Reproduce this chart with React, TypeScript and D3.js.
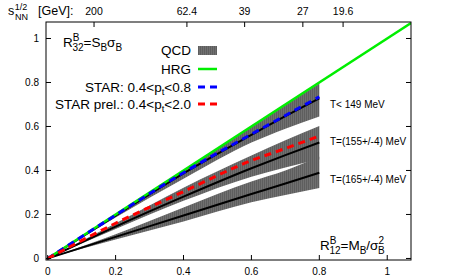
import React from 'react'
import * as d3 from 'd3'

const xGrid = [0, 0.2, 0.4, 0.6, 0.7, 0.8]

// QCD bands: center / upper / lower
const band149 = [0, 0.195, 0.387, 0.562, 0.647, 0.728]
const band149Hi = [0, 0.2, 0.4, 0.597, 0.697, 0.795]
const band149Lo = [0, 0.186, 0.362, 0.527, 0.59, 0.645]
const band155 = [0, 0.145, 0.281, 0.41, 0.47, 0.527]
const band155Hi = [0, 0.16, 0.322, 0.468, 0.537, 0.602]
const band155Lo = [0, 0.134, 0.262, 0.372, 0.414, 0.45]
const band165 = [0, 0.098, 0.195, 0.293, 0.341, 0.39]
const band165Hi = [0, 0.11, 0.232, 0.35, 0.4, 0.462]
const band165Lo = [0, 0.086, 0.168, 0.255, 0.288, 0.32]

// STAR data curves
const star = [0, 0.197, 0.39, 0.565, 0.65, 0.735]
const starPrel = [0, 0.16, 0.304, 0.445, 0.5, 0.557]

// HRG: R32 = R12
const hrgX = [0, 1.07]

const bandLabels = ['T< 149 MeV', 'T=(155+/-4) MeV', 'T=(165+/-4) MeV']
const bandLabelY = [0.7, 0.53, 0.36]

const xTicks = [0, 0.2, 0.4, 0.6, 0.8, 1]
const yTicks = [0, 0.2, 0.4, 0.6, 0.8, 1]
const sqrtsLabels = ['200', '62.4', '39', '27', '19.6']
const sqrtsPos = [0.1365, 0.41, 0.58, 0.7515, 0.87]

const W = 463
const H = 278
const font = '"Liberation Sans", Arial, sans-serif'

export default function App() {
  const x = d3.scaleLinear().domain([-0.005, 1.07]).range([46, 411])
  const y = d3.scaleLinear().domain([-0.007, 1.075]).range([260, 22])
  const [x0, x1] = x.range()
  const [y0, y1] = y.range()

  const line = (ys: number[]) =>
    d3
      .line<number>()
      .x((_, i) => x(xGrid[i]))
      .y((d) => y(d))
      .curve(d3.curveMonotoneX)(ys) as string

  const area = (lo: number[], hi: number[]) =>
    d3
      .area<number>()
      .x((_, i) => x(xGrid[i]))
      .y0((d) => y(d))
      .y1((_, i) => y(hi[i]))
      .curve(d3.curveMonotoneX)(lo) as string

  const bands = [
    [band165Lo, band165Hi, band165],
    [band155Lo, band155Hi, band155],
    [band149Lo, band149Hi, band149],
  ]

  const legendX = 191
  const legendRows = [50, 69, 87, 104]

  return (
    <svg
      width={W}
      height={H}
      style={{position: 'absolute', left: 0, top: 0, background: '#fff'}}
      fontFamily={font}
    >
      <defs>
        <pattern id="hatch" width={2} height={4} patternUnits="userSpaceOnUse">
          <rect width={2} height={4} fill="#707070" />
          <rect width={1} height={4} fill="#5e5e5e" />
        </pattern>
        <clipPath id="plot">
          <rect x={x0} y={y1} width={x1 - x0} height={y0 - y1} />
        </clipPath>
      </defs>

      <g clipPath="url(#plot)">
        {bands.map(([lo, hi], i) => (
          <path key={'b' + i} d={area(lo, hi)} fill="url(#hatch)" />
        ))}
        {bands.map(([, , c], i) => (
          <path key={'c' + i} d={line(c)} fill="none" stroke="#000" strokeWidth={2} />
        ))}
        <line
          x1={x(hrgX[0])}
          y1={y(hrgX[0])}
          x2={x(hrgX[1])}
          y2={y(hrgX[1])}
          stroke="#00ee00"
          strokeWidth={2.5}
        />
        <path d={line(star)} fill="none" stroke="#0000ff" strokeWidth={3} strokeDasharray="7,5" />
        <path d={line(starPrel)} fill="none" stroke="#ff0000" strokeWidth={3} strokeDasharray="7,5" />
      </g>

      {/* frame */}
      <rect x={x0} y={y1} width={x1 - x0} height={y0 - y1} fill="none" stroke="#000" strokeWidth={1} />

      {/* bottom axis */}
      {xTicks.map((t) => (
        <g key={'x' + t}>
          <line x1={x(t)} x2={x(t)} y1={y0} y2={y0 - 5} stroke="#000" />
          <text x={x(t)} y={275} fontSize={10} textAnchor="middle" fill="#000">
            {t}
          </text>
        </g>
      ))}

      {/* left / right axis */}
      {yTicks.map((t) => (
        <g key={'y' + t}>
          <line x1={x0} x2={x0 + 5} y1={y(t)} y2={y(t)} stroke="#000" />
          <line x1={x1} x2={x1 - 5} y1={y(t)} y2={y(t)} stroke="#000" />
          <text x={39} y={y(t) + 3.5} fontSize={10} textAnchor="end" fill="#000">
            {t}
          </text>
        </g>
      ))}

      {/* top sqrt(s) axis */}
      {sqrtsPos.map((p, i) => (
        <g key={'s' + i}>
          <line x1={x(p)} x2={x(p)} y1={y1} y2={y1 + 5} stroke="#000" />
          <text x={x(p)} y={15} fontSize={10.5} textAnchor="middle" fill="#000">
            {sqrtsLabels[i]}
          </text>
        </g>
      ))}
      <text x={8} y={15} fontSize={12.5} fill="#000">
        s
        <tspan fontSize={9} dx={0.5} dy={-5}>1/2</tspan>
        <tspan fontSize={9} x={15} dy={10}>NN</tspan>
        <tspan x={38} dy={-5}>[GeV]:</tspan>
      </text>

      {/* corner labels */}
      <text x={63} y={47} fontSize={13.5} fill="#000">
        R
        <tspan fontSize={10} dy={-6}>B</tspan>
        <tspan fontSize={10} dx={-7} dy={10}>32</tspan>
        <tspan dy={-4}>=S</tspan>
        <tspan fontSize={10} dy={4}>B</tspan>
        <tspan dy={-4}>σ</tspan>
        <tspan fontSize={10} dy={4}>B</tspan>
      </text>
      <text x={320} y={250} fontSize={13.5} fill="#000">
        R
        <tspan fontSize={10} dy={-6}>B</tspan>
        <tspan fontSize={10} dx={-7} dy={10}>12</tspan>
        <tspan dy={-4}>=M</tspan>
        <tspan fontSize={10} dy={4}>B</tspan>
        <tspan dy={-4}>/σ</tspan>
        <tspan fontSize={10} dy={-6}>2</tspan>
        <tspan fontSize={10} dx={-6} dy={10}>B</tspan>
      </text>

      {/* band labels */}
      {bandLabels.map((l, i) => (
        <text key={l} x={330} y={y(bandLabelY[i]) + 3.5} fontSize={10} fill="#000">
          {l}
        </text>
      ))}

      {/* legend */}
      <text x={legendX} y={legendRows[0] + 5} fontSize={13.5} textAnchor="end" fill="#000">
        QCD
      </text>
      <rect x={198} y={legendRows[0] - 4} width={19} height={9} fill="url(#hatch)" />
      <text x={legendX} y={legendRows[1] + 5} fontSize={13.5} textAnchor="end" fill="#000">
        HRG
      </text>
      <line x1={198} x2={217} y1={legendRows[1]} y2={legendRows[1]} stroke="#00ee00" strokeWidth={2.5} />
      <text x={legendX} y={legendRows[2] + 5} fontSize={13.5} textAnchor="end" fill="#000">
        STAR: 0.4&lt;p<tspan fontSize={9.5} dy={3}>t</tspan>
        <tspan dy={-3}>&lt;0.8</tspan>
      </text>
      <line x1={198} x2={217} y1={legendRows[2]} y2={legendRows[2]} stroke="#0000ff" strokeWidth={3} strokeDasharray="7,5" />
      <text x={legendX} y={legendRows[3] + 5} fontSize={13.5} textAnchor="end" fill="#000">
        STAR prel.: 0.4&lt;p<tspan fontSize={9.5} dy={3}>t</tspan>
        <tspan dy={-3}>&lt;2.0</tspan>
      </text>
      <line x1={198} x2={217} y1={legendRows[3]} y2={legendRows[3]} stroke="#ff0000" strokeWidth={3} strokeDasharray="7,5" />
    </svg>
  )
}
